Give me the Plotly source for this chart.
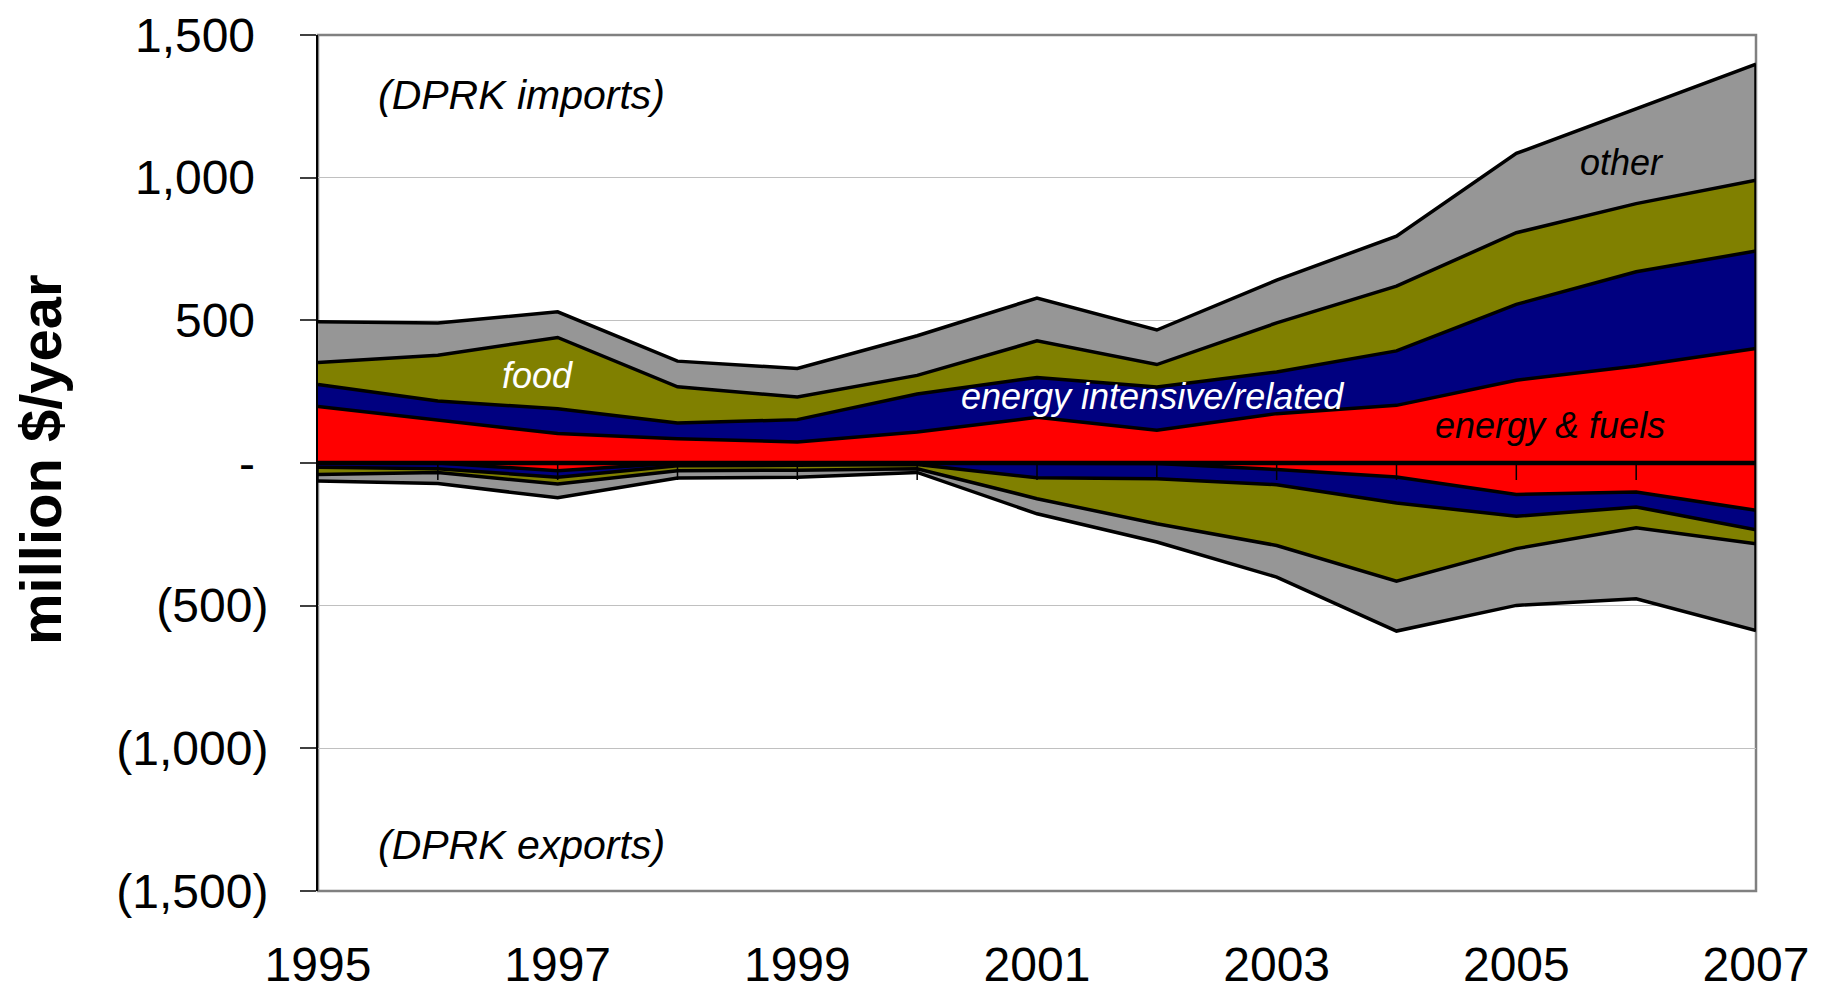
import plotly.graph_objects as go

# ---------------- data (million $/year) ----------------
years = [1995, 1996, 1997, 1998, 1999, 2000, 2001, 2002, 2003, 2004, 2005, 2006, 2007]
tick_years = [1995, 1997, 1999, 2001, 2003, 2005, 2007]

# DPRK imports, by category (stack components)
imp_energy_fuels = [198, 150, 103, 85, 74, 109, 160, 115, 173, 202, 290, 340, 401]
imp_energy_intensive = [77, 67, 87, 55, 78, 133, 140, 151, 146, 191, 266, 330, 342]
imp_food = [77, 161, 250, 127, 79, 65, 128, 79, 172, 227, 251, 239, 248]
imp_other = [143, 113, 90, 90, 100, 139, 150, 121, 150, 175, 278, 334, 407]

# DPRK exports, by category (negative stack components)
exp_energy_fuels = [0, 0, -27, 0, 0, 0, 0, -2, -23, -49, -110, -102, -166]
exp_energy_intensive = [-15, -20, -23, -10, -8, -5, -52, -53, -53, -91, -77, -52, -68]
exp_food = [-25, -13, -24, -17, -17, -15, -73, -158, -213, -274, -113, -73, -49]
exp_other = [-23, -39, -48, -26, -25, -13, -53, -64, -111, -175, -199, -249, -304]

y_tickvals = [1500, 1000, 500, 0, -500, -1000, -1500]
y_ticktext = ["1,500", "1,000", "500", "-", "(500)", "(1,000)", "(1,500)"]

categories = ["energy & fuels", "energy intensive/related", "food", "other"]
colors = ["#FF0000", "#000080", "#808000", "#969696"]

FONT = "Arial, 'Liberation Sans', sans-serif"

fig = go.Figure()

groups = {
    "imports": [imp_energy_fuels, imp_energy_intensive, imp_food, imp_other],
    "exports": [exp_energy_fuels, exp_energy_intensive, exp_food, exp_other],
}
for grp, series in groups.items():
    for name, vals, col in zip(categories, series, colors):
        fig.add_trace(go.Scatter(
            x=years, y=vals, name=name, stackgroup=grp, mode="lines",
            line=dict(color="black", width=3.5), fillcolor=col,
            hoverinfo="skip", showlegend=False,
        ))

# right-hand edge outline of the stacked areas
imp_total_last = sum(s[-1] for s in groups["imports"])
exp_total_last = sum(s[-1] for s in groups["exports"])
fig.add_trace(go.Scatter(x=[years[-1], years[-1]], y=[exp_total_last, imp_total_last],
                         mode="lines", line=dict(color="black", width=3.5),
                         hoverinfo="skip", showlegend=False))
# zero line
fig.add_trace(go.Scatter(x=years, y=[0] * len(years), mode="lines",
                         line=dict(color="black", width=4.5),
                         hoverinfo="skip", showlegend=False))

shapes = [dict(type="rect", xref="paper", yref="paper", x0=0, x1=1, y0=0, y1=1,
               line=dict(color="#808080", width=2.5), layer="below")]
# year tick marks crossing the zero line
for yr in years:
    shapes.append(dict(type="line", xref="x", yref="y", x0=yr, x1=yr,
                       ysizemode="pixel", yanchor=0, y0=0, y1=-17,
                       line=dict(color="black", width=1.5), layer="above"))

pad = "\u00a0"
ticktext = [t if v < 0 else t + pad for t, v in zip(y_ticktext, y_tickvals)]

fig.update_layout(
    width=1814, height=991,
    margin=dict(l=310, r=66, t=27, b=108),
    paper_bgcolor="white", plot_bgcolor="white",
    font=dict(family=FONT, color="black"),
    showlegend=False,
    shapes=shapes,
    xaxis=dict(range=[years[0], years[-1]], tickvals=tick_years,
               ticktext=[str(t) for t in tick_years], ticks="",
               showgrid=False, zeroline=False, showline=False,
               tickfont=dict(size=48, family=FONT, color="black"),
               ticklabelstandoff=41, automargin=False),
    yaxis=dict(range=[-1500, 1500], tickvals=y_tickvals, ticktext=ticktext,
               ticks="outside", ticklen=16, tickwidth=1.5, tickcolor="#404040",
               showline=True, linecolor="black", linewidth=2,
               showgrid=True, gridcolor="#c0c0c0", gridwidth=1.2,
               zeroline=False, automargin=False,
               tickfont=dict(size=48, family=FONT, color="black"),
               ticklabelstandoff=22),
    annotations=[
        dict(xref="paper", yref="paper", x=-0.1933, y=0.5035, xanchor="center",
             yanchor="middle", textangle=-90, showarrow=False,
             text="<b>million $/year</b>", font=dict(size=58, family=FONT, color="black")),
        dict(x=1996.70, y=1290, text="<i>(DPRK imports)</i>", showarrow=False,
             font=dict(size=41, family=FONT, color="black")),
        dict(x=1996.70, y=-1340, text="<i>(DPRK exports)</i>", showarrow=False,
             font=dict(size=41, family=FONT, color="black")),
        dict(x=1996.83, y=307, text="<i>food</i>", showarrow=False,
             font=dict(size=36, family=FONT, color="white")),
        dict(x=2001.96, y=234, text="<i>energy intensive/related</i>", showarrow=False,
             font=dict(size=36, family=FONT, color="white")),
        dict(x=2005.28, y=132, text="<i>energy & fuels</i>", showarrow=False,
             font=dict(size=36, family=FONT, color="black")),
        dict(x=2005.88, y=1054, text="<i>other</i>", showarrow=False,
             font=dict(size=36, family=FONT, color="black")),
    ],
)

fig.write_html("out.html")
